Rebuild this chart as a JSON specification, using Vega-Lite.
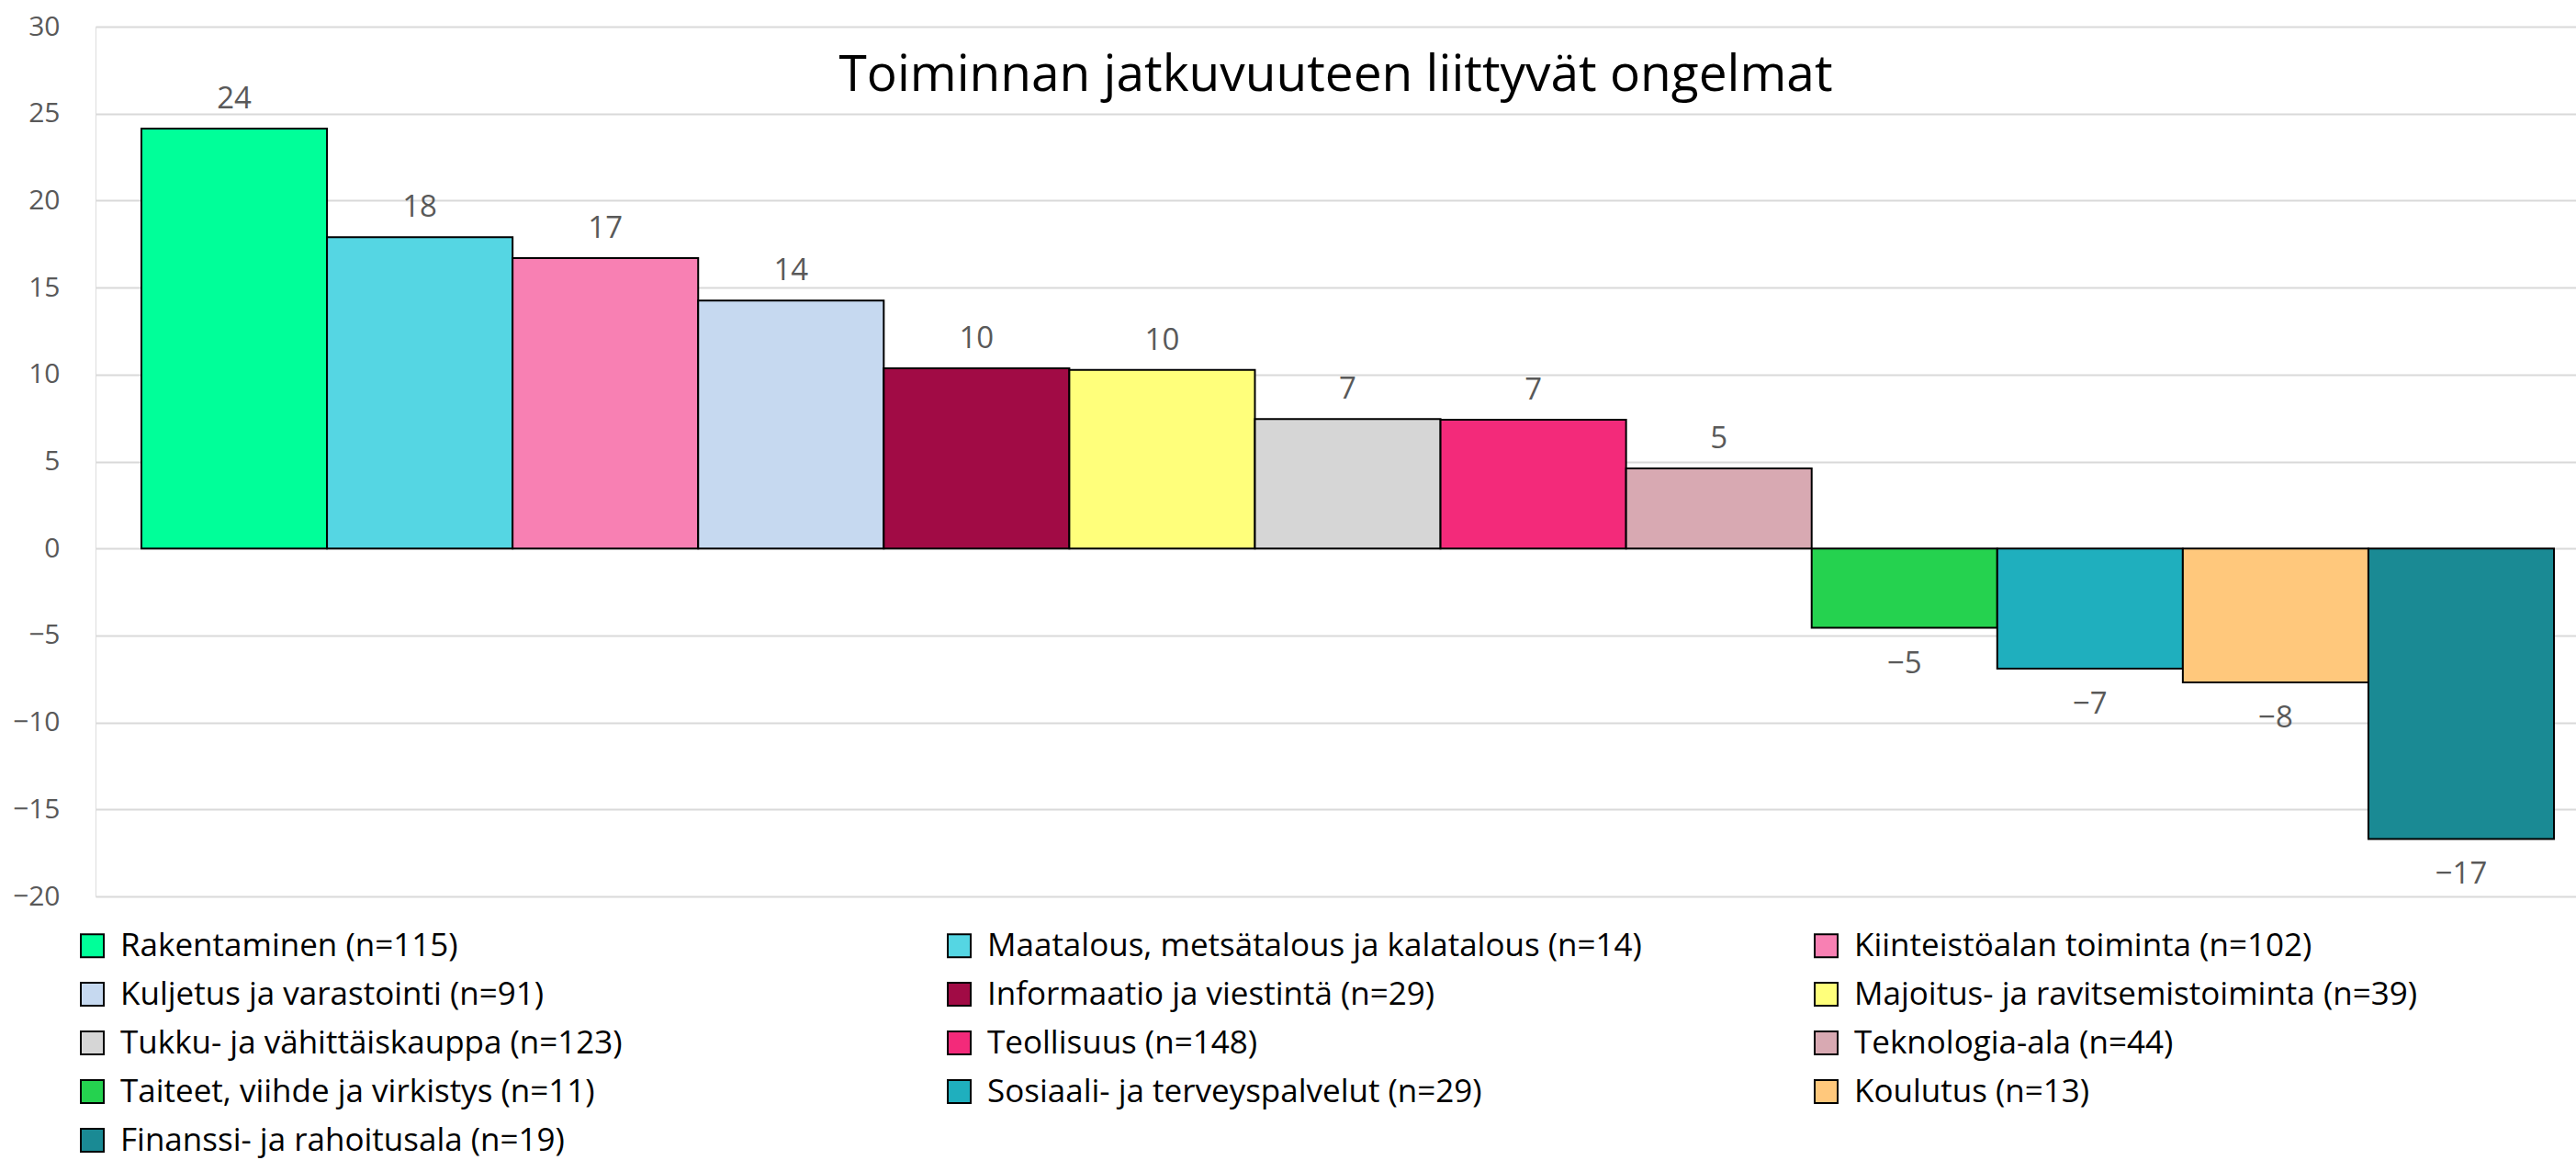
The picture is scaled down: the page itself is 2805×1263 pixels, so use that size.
{
  "$schema": "https://vega.github.io/schema/vega-lite/v6.json",
  "width": 2701,
  "height": 947,
  "autosize": {"type": "none"},
  "padding": {"left": 104, "top": 29, "right": 0, "bottom": 287},
  "background": "white",
  "title": {
    "text": "Toiminnan jatkuvuuteen liittyvät ongelmat",
    "fontSize": 55,
    "font": "Open Sans",
    "fontWeight": "normal",
    "color": "#000000",
    "anchor": "middle",
    "baseline": "alphabetic",
    "offset": -140
  },
  "data": {
    "values": [
      {"ala": "Rakentaminen (n=115)", "arvo": 24.14},
      {"ala": "Maatalous, metsätalous ja kalatalous (n=14)", "arvo": 17.9},
      {"ala": "Kiinteistöalan toiminta (n=102)", "arvo": 16.7},
      {"ala": "Kuljetus ja varastointi (n=91)", "arvo": 14.25},
      {"ala": "Informaatio ja viestintä (n=29)", "arvo": 10.36},
      {"ala": "Majoitus- ja ravitsemistoiminta (n=39)", "arvo": 10.27},
      {"ala": "Tukku- ja vähittäiskauppa (n=123)", "arvo": 7.44},
      {"ala": "Teollisuus (n=148)", "arvo": 7.4},
      {"ala": "Teknologia-ala (n=44)", "arvo": 4.6},
      {"ala": "Taiteet, viihde ja virkistys (n=11)", "arvo": -4.56},
      {"ala": "Sosiaali- ja terveyspalvelut (n=29)", "arvo": -6.9},
      {"ala": "Koulutus (n=13)", "arvo": -7.7},
      {"ala": "Finanssi- ja rahoitusala (n=19)", "arvo": -16.7}
    ]
  },
  "encoding": {
    "x": {
      "field": "ala",
      "type": "nominal",
      "sort": null,
      "scale": {"paddingInner": 0, "paddingOuter": 0.183, "align": 0.676},
      "axis": null
    }
  },
  "layer": [
    {
      "mark": {"type": "bar", "stroke": "black", "strokeWidth": 2},
      "encoding": {
        "y": {
          "field": "arvo",
          "type": "quantitative",
          "scale": {"domain": [-20, 30], "nice": false},
          "axis": {
            "values": [-20, -15, -10, -5, 0, 5, 10, 15, 20, 25, 30],
            "grid": true,
            "gridColor": "#D9D9D9",
            "gridWidth": 2,
            "domain": false,
            "ticks": false,
            "labelFontSize": 30,
            "labelFont": "Open Sans",
            "labelColor": "#595959",
            "labelPadding": 39,
            "title": null
          }
        },
        "color": {
          "field": "ala",
          "type": "nominal",
          "sort": null,
          "scale": {
            "domain": [
              "Rakentaminen (n=115)",
              "Maatalous, metsätalous ja kalatalous (n=14)",
              "Kiinteistöalan toiminta (n=102)",
              "Kuljetus ja varastointi (n=91)",
              "Informaatio ja viestintä (n=29)",
              "Majoitus- ja ravitsemistoiminta (n=39)",
              "Tukku- ja vähittäiskauppa (n=123)",
              "Teollisuus (n=148)",
              "Teknologia-ala (n=44)",
              "Taiteet, viihde ja virkistys (n=11)",
              "Sosiaali- ja terveyspalvelut (n=29)",
              "Koulutus (n=13)",
              "Finanssi- ja rahoitusala (n=19)"
            ],
            "range": ["#00FF99", "#55D6E3", "#F880B3", "#C6D9F0", "#A10B45", "#FFFF7B", "#D6D6D6", "#F32A7A", "#D8A9B2", "#25D24F", "#1FAFBE", "#FFC87C", "#1A8A94"]
          },
          "legend": {
            "orient": "none",
            "direction": "horizontal",
            "legendX": -21,
            "legendY": 983,
            "columns": 3,
            "gridAlign": "all",
            "title": null,
            "symbolType": "square",
            "symbolSize": 625,
            "symbolStrokeColor": "black",
            "symbolStrokeWidth": 2,
            "symbolOpacity": 1,
            "labelFontSize": 35,
            "labelFont": "Open Sans",
            "labelColor": "#000000",
            "labelOffset": 13,
            "labelLimit": 2000,
            "rowPadding": 17,
            "columnPadding": 183
          }
        }
      }
    },
    {
      "transform": [{"filter": "datum.arvo >= 0"}],
      "mark": {"type": "text", "dy": -22, "baseline": "alphabetic", "fontSize": 33, "font": "Open Sans", "color": "#595959"},
      "encoding": {
        "y": {"field": "arvo", "type": "quantitative"},
        "text": {"field": "arvo", "type": "quantitative", "format": ".0f"}
      }
    },
    {
      "transform": [{"filter": "datum.arvo < 0"}],
      "mark": {"type": "text", "dy": 49, "baseline": "alphabetic", "fontSize": 33, "font": "Open Sans", "color": "#595959"},
      "encoding": {
        "y": {"field": "arvo", "type": "quantitative"},
        "text": {"field": "arvo", "type": "quantitative", "format": ".0f"}
      }
    }
  ]
}
